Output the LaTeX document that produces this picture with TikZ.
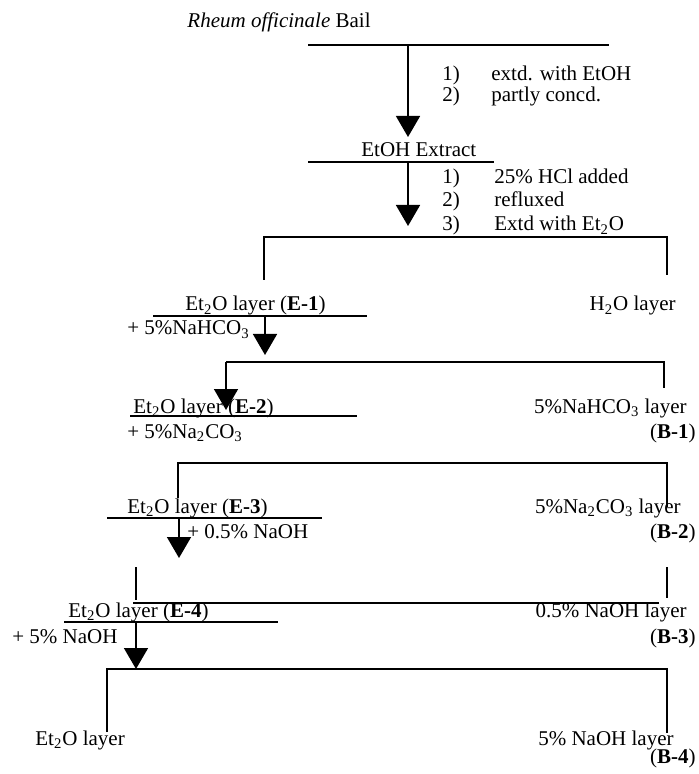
\documentclass[tikz,border=0pt]{standalone}
\usepackage{fontspec}
\setmainfont{Liberation Serif}
\usetikzlibrary{arrows.meta}
\begin{document}
\begin{tikzpicture}[x=0.5pt,y=-0.5pt,
  txt/.style={inner sep=0pt, font=\fontsize{10.5}{12}\selectfont},
  lw/.style={txt, anchor=base west},
  le/.style={txt, anchor=base east},
  rule/.style={line width=0.8pt},
  arr/.style={line width=0.8pt, -{Triangle[length=10.5pt,width=12pt]}}]
\useasboundingbox (0,0) rectangle (698,774);

% ---------- texts ----------
\node[le] (t0) at (371,28) {\textit{Rheum officinale} Bail};
\node[lw] (n1a) at (442,81) {1)};
\node[lw] (s1a) at (491,81) {extd. with EtOH};
\node[lw] (n1b) at (442,102) {2)};
\node[lw] (s1b) at (491,102) {partly concd.};
\node[lw] (t1) at (361,157) {EtOH Extract};
\node[lw] (n2a) at (442,184) {1)};
\node[lw] (s2a) at (494,184) {25\% HCl added};
\node[lw] (n2b) at (442,207) {2)};
\node[lw] (s2b) at (494,207) {refluxed};
\node[lw] (n2c) at (442,231) {3)};
\node[lw] (s2c) at (494,231) {Extd with Et\textsubscript{2}O};
\node[lw] (e1) at (185,311) {Et\textsubscript{2}O layer (\textbf{E-1})};
\node[le] (h2o) at (676,311) {H\textsubscript{2}O layer};
\node[lw] (r1) at (127,335) {+ 5\%NaHCO\textsubscript{3}};
\node[lw] (e2) at (133,413) {Et\textsubscript{2}O layer (\textbf{E-2})};
\node[le] (b1a) at (687,413) {5\%NaHCO\textsubscript{3} layer};
\node[le] (b1) at (696,438) {(\textbf{B-1})};
\node[lw] (r2) at (127,438) {+ 5\%Na\textsubscript{2}CO\textsubscript{3}};
\node[lw] (e3) at (127,513) {Et\textsubscript{2}O layer (\textbf{E-3})};
\node[le] (b2a) at (681,513) {5\%Na\textsubscript{2}CO\textsubscript{3} layer};
\node[le] (b2) at (696,538) {(\textbf{B-2})};
\node[lw] (r3) at (187,538) {+ 0.5\% NaOH};
\node[lw] (e4) at (68,617) {Et\textsubscript{2}O layer (\textbf{E-4})};
\node[le] (b3a) at (687,617) {0.5\% NaOH layer};
\node[le] (b3) at (696,643) {(\textbf{B-3})};
\node[lw] (r4) at (12,643) {+ 5\% NaOH};
\node[lw] (e5) at (35,745) {Et\textsubscript{2}O layer};
\node[le] (b4a) at (674,745) {5\% NaOH layer};
\node[le] (b4) at (696,763) {(\textbf{B-4})};

% ---------- coordinates ----------
\coordinate (L0a) at (308,45);  \coordinate (L0b) at (609,45);
\coordinate (A0s) at (408,45);  \coordinate (A0e) at (408,137);
\coordinate (L1a) at (308,162); \coordinate (L1b) at (494,162);
\coordinate (A1s) at (408,162); \coordinate (A1e) at (408,226);
\coordinate (K1a) at (264,280); \coordinate (K1b) at (264,237);
\coordinate (K1c) at (667,237); \coordinate (K1d) at (667,275);
\coordinate (L2a) at (153,316); \coordinate (L2b) at (367,316);
\coordinate (A2s) at (265,316); \coordinate (A2e) at (265,355);
\coordinate (K2a) at (226,362); \coordinate (K2b) at (664,362);
\coordinate (K2c) at (664,388); \coordinate (A3e) at (226,410);
\coordinate (L3a) at (130,416); \coordinate (L3b) at (357,416);
\coordinate (K3a) at (178,498); \coordinate (K3b) at (178,463);
\coordinate (K3c) at (667,463); \coordinate (K3d) at (667,507);
\coordinate (L4a) at (107,518); \coordinate (L4b) at (322,518);
\coordinate (A4s) at (179,518); \coordinate (A4e) at (179,558);
\coordinate (V1a) at (136,567); \coordinate (V1b) at (136,600);
\coordinate (V2a) at (667,567); \coordinate (V2b) at (667,598);
\coordinate (H4a) at (133,603); \coordinate (H4b) at (659,603);
\coordinate (L5a) at (64,622);  \coordinate (L5b) at (278,622);
\coordinate (A5s) at (136,622); \coordinate (A5e) at (136,669);
\coordinate (K5a) at (107,732); \coordinate (K5b) at (107,669);
\coordinate (K5c) at (667,669); \coordinate (K5d) at (667,733);

% ---------- lines ----------
\draw[rule] (L0a) -- (L0b);
\draw[arr] (A0s) -- (A0e);
\draw[rule] (L1a) -- (L1b);
\draw[arr] (A1s) -- (A1e);
\draw[rule] (K1a) -- (K1b) -- (K1c) -- (K1d);
\draw[rule] (L2a) -- (L2b);
\draw[arr] (A2s) -- (A2e);
\draw[rule] (K2a) -- (K2b) -- (K2c);
\draw[arr] (K2a) -- (A3e);
\draw[rule] (L3a) -- (L3b);
\draw[rule] (K3a) -- (K3b) -- (K3c) -- (K3d);
\draw[rule] (L4a) -- (L4b);
\draw[arr] (A4s) -- (A4e);
\draw[rule] (V1a) -- (V1b);
\draw[rule] (V2a) -- (V2b);
\draw[line width=1.1pt] (H4a) -- (H4b);
\draw[rule] (L5a) -- (L5b);
\draw[arr] (A5s) -- (A5e);
\draw[rule] (K5a) -- (K5b) -- (K5c) -- (K5d);
\end{tikzpicture}
\end{document}
